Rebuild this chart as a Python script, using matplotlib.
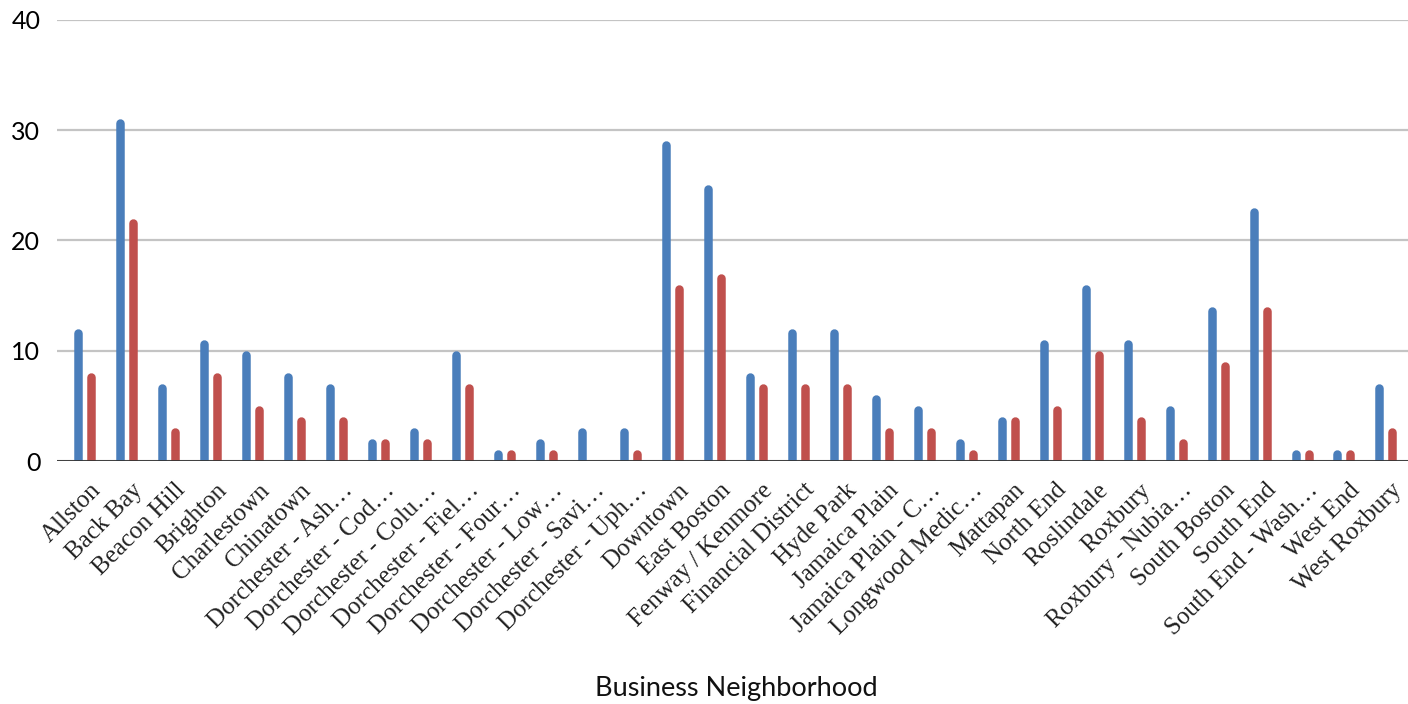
import numpy as np
import matplotlib.pyplot as plt

# Business neighborhoods (labels truncated as in the source chart)
neighborhoods = [
    "Allston", "Back Bay", "Beacon Hill", "Brighton", "Charlestown", "Chinatown",
    "Dorchester - Ash\u2026", "Dorchester - Cod\u2026", "Dorchester - Colu\u2026",
    "Dorchester - Fiel\u2026", "Dorchester - Four\u2026", "Dorchester - Low\u2026",
    "Dorchester - Savi\u2026", "Dorchester - Uph\u2026", "Downtown", "East Boston",
    "Fenway / Kenmore", "Financial District", "Hyde Park", "Jamaica Plain",
    "Jamaica Plain - C\u2026", "Longwood Medic\u2026", "Mattapan", "North End",
    "Roslindale", "Roxbury", "Roxbury - Nubia\u2026", "South Boston", "South End",
    "South End - Wash\u2026", "West End", "West Roxbury",
]
blue_vals = [12, 31, 7, 11, 10, 8, 7, 2, 3, 10, 1, 2, 3, 3, 29, 25,
             8, 12, 12, 6, 5, 2, 4, 11, 16, 11, 5, 14, 23, 1, 1, 7]
red_vals = [8, 22, 3, 8, 5, 4, 4, 2, 2, 7, 1, 1, 0, 1, 16, 17,
            7, 7, 7, 3, 3, 1, 4, 5, 10, 4, 2, 9, 14, 1, 1, 3]
y_ticks = [0, 10, 20, 30, 40]

blue = "#4a7ebb"
red = "#c0504d"

fig = plt.figure(figsize=(14.08, 7.04), dpi=100)
ax = fig.add_axes([0.0405, 0.345, 0.9595, 0.627])
ax.set_xlim(-0.667, 31.52)
ax.set_ylim(0, 40)

# thin bars with rounded tops: round-capped lines, cap kept inside the value
bar_px = 8.5
ax_h_px = ax.get_position().height * fig.get_figheight() * fig.dpi
r = (bar_px / 2) / (ax_h_px / 40)
x = np.arange(len(neighborhoods))
for vals, off, col in [(blue_vals, -0.16, blue), (red_vals, 0.15, red)]:
    v = np.array(vals, dtype=float)
    keep = v > 0
    ax.vlines(x[keep] + off, -1, v[keep] - r, colors=col,
              linewidth=bar_px * 72 / fig.dpi, capstyle="round", zorder=3)

ax.set_yticks(y_ticks)
ax.set_yticklabels([str(t) for t in y_ticks], fontsize=18, family="Lato")
ax.yaxis.grid(True, color="#c4c4c4", linewidth=1.6, zorder=0)
ax.set_axisbelow(True)
ax.axhline(0, color="#333333", linewidth=2, zorder=4)

ax.set_xticks(x + 0.12)
ax.set_xticklabels(neighborhoods, rotation=45, ha="right", va="top",
                   rotation_mode="anchor", fontsize=18, family="Liberation Serif",
                   color="#222222")
ax.tick_params(axis="both", length=0)
ax.tick_params(axis="x", pad=13)
ax.tick_params(axis="y", pad=12)

for side in ["top", "right", "left", "bottom"]:
    ax.spines[side].set_visible(False)

fig.text(0.523, 0.022, "Business Neighborhood", ha="center", va="center",
         fontsize=19.5, family="Lato", color="#111111")

fig.savefig("out.png", dpi=100)
